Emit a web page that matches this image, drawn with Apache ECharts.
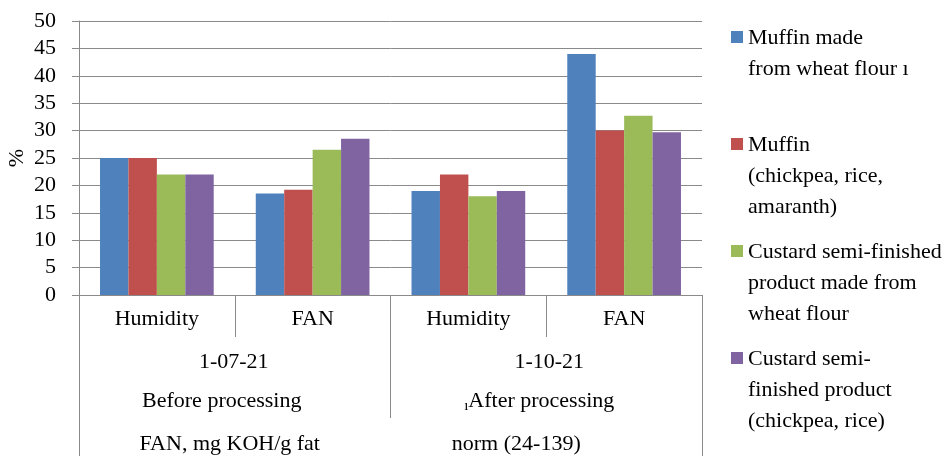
<!DOCTYPE html>
<html>
<head>
<meta charset="utf-8">
<script src="https://cdn.jsdelivr.net/npm/echarts@6/dist/echarts.min.js"></script>
<style>
  html, body { margin: 0; padding: 0; background: #ffffff; }
  #chart { width: 952px; height: 456px; }
</style>
</head>
<body>
<div id="chart"></div>
<script>
// Category rows under the bars
const categories = ['Humidity', 'FAN', 'Humidity', 'FAN'];
const dates = ['1-07-21', '1-10-21'];
const stages = ['Before processing', 'After processing'];
const notes = ['FAN, mg KOH/g fat', 'norm (24-139)'];

// Value axis
const yMin = 0;
const yMax = 50;
const yStep = 5;

// Series
const seriesNames = [
  'Muffin made\nfrom wheat flour ı',
  'Muffin\n(chickpea, rice,\namaranth)',
  'Custard semi-finished\nproduct made from\nwheat flour',
  'Custard semi-\nfinished product\n(chickpea, rice)'
];
const muffinWheat     = [25, 18.5, 19, 44];
const muffinChickpea  = [25, 19.2, 22, 30];
const custardWheat    = [22, 26.5, 18, 32.7];
const custardChickpea = [22, 28.5, 19, 29.7];
const seriesValues = [muffinWheat, muffinChickpea, custardWheat, custardChickpea];
const palette = ['#4F81BD', '#C0504D', '#9BBB59', '#8064A2'];

const FONT = '"Liberation Serif", "Times New Roman", serif';
const LINE = '#8a8a8a';

const chart = echarts.init(document.getElementById('chart'), null, { renderer: 'canvas' });

// Legend drawn as rect + multi-line text so the swatch sits on the first line
const legendGraphics = [];
seriesNames.forEach((name, i) => {
  const y0 = 31 + i * 107;
  legendGraphics.push({
    type: 'rect', left: 731, top: y0,
    shape: { width: 12, height: 12 },
    style: { fill: palette[i] }
  });
  legendGraphics.push({
    type: 'text', left: 748, top: y0 - 8,
    style: {
      text: name,
      font: '22px ' + FONT,
      fill: '#000',
      lineHeight: 31
    }
  });
});

const rowStyle = { fontFamily: FONT, fontSize: 22, color: '#000', lineHeight: 39 };

chart.setOption({
  animation: false,
  backgroundColor: '#ffffff',
  color: palette,
  grid: {
    left: 79, right: 250, top: 21, bottom: 161,
    containLabel: false,
    outerBoundsMode: 'none'
  },
  yAxis: {
    type: 'value',
    min: yMin, max: yMax, interval: yStep,
    name: '%',
    nameLocation: 'middle',
    nameGap: 51,
    nameRotate: 90,
    nameMoveOverlap: false,
    nameTextStyle: { fontFamily: FONT, fontSize: 22, color: '#000' },
    axisLine: { show: true, lineStyle: { color: LINE, width: 1 } },
    axisTick: { show: true, length: 7, lineStyle: { color: LINE } },
    axisLabel: { margin: 23, fontFamily: FONT, fontSize: 22, color: '#000' },
    splitLine: { show: true, lineStyle: { color: LINE, width: 1 } }
  },
  xAxis: [
    {
      type: 'category', data: categories, position: 'bottom',
      axisLine: { show: true, lineStyle: { color: LINE } },
      axisTick: { show: true, length: 42, interval: 0, lineStyle: { color: LINE } },
      axisLabel: { interval: 0, margin: 13, fontFamily: FONT, fontSize: 22, color: '#000' }
    },
    {
      type: 'category', data: dates, position: 'bottom', gridIndex: 0,
      axisLine: { show: false },
      axisTick: { show: true, length: 123, interval: 0, lineStyle: { color: LINE } },
      axisLabel: {
        interval: 0, margin: 48, fontFamily: FONT, fontSize: 22, color: '#000', lineHeight: 39,
        formatter: (v, i) => '{d' + i + '|' + v + '}\n' + (i === 1 ? '{s|ı}' : '') + '{t' + i + '|' + stages[i] + '}',
        rich: {
          d0: Object.assign({ padding: [0, 2, 0, 0] }, rowStyle),
          d1: Object.assign({ padding: [0, 0, 0, 6] }, rowStyle),
          t0: Object.assign({ padding: [0, 26, 0, 0] }, rowStyle),
          t1: Object.assign({ padding: [0, 14, 0, 0] }, rowStyle),
          s: { fontFamily: FONT, fontSize: 15, color: '#000', lineHeight: 39, padding: [10, 0, 0, 0] }
        }
      }
    },
    {
      type: 'category', data: notes, position: 'bottom', gridIndex: 0,
      axisLine: { show: false },
      axisTick: { show: false },
      axisLabel: {
        interval: 0, margin: 138, fontFamily: FONT, fontSize: 22, color: '#000',
        formatter: (v, i) => '{n' + i + '|' + v + '}',
        rich: {
          n0: { fontFamily: FONT, fontSize: 22, color: '#000', padding: [0, 10, 0, 0] },
          n1: { fontFamily: FONT, fontSize: 22, color: '#000', padding: [0, 60, 0, 0] }
        }
      }
    },
    {
      // outer frame lines running down to the bottom edge
      type: 'category', data: [''], position: 'bottom', gridIndex: 0,
      axisLine: { show: false },
      axisTick: { show: true, length: 161, lineStyle: { color: LINE } },
      axisLabel: { show: false }
    }
  ],
  series: seriesNames.map((name, i) => ({
    name: name,
    type: 'bar',
    xAxisIndex: 0,
    data: seriesValues[i],
    barGap: '0%',
    barCategoryGap: '27%',
    itemStyle: { color: palette[i] }
  })),
  graphic: legendGraphics
});
</script>
</body>
</html>
